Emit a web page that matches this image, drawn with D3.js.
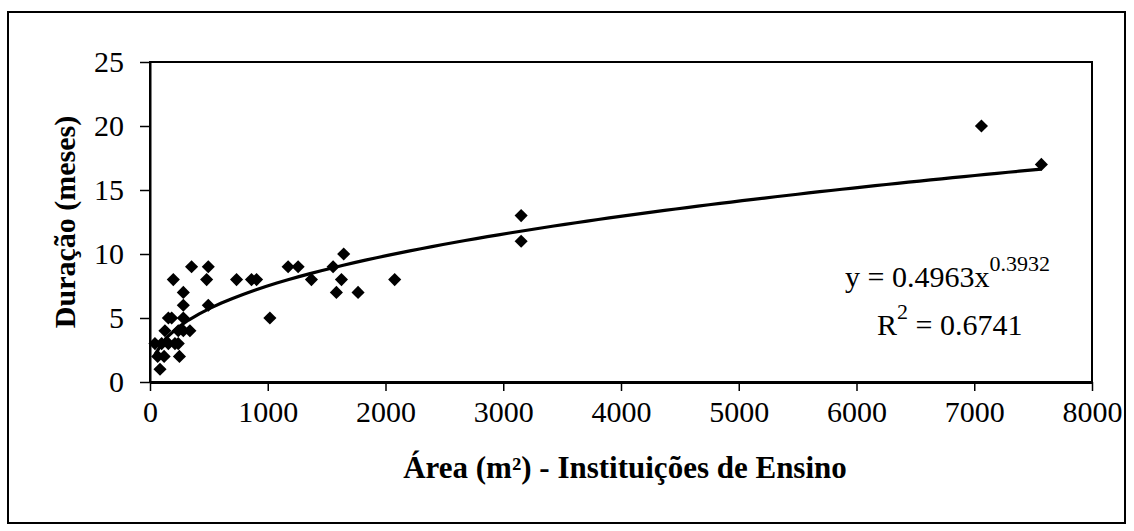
<!DOCTYPE html>
<html>
<head>
<meta charset="utf-8">
<script src="https://cdn.jsdelivr.net/npm/d3@7"></script>
<style>
  html, body { margin: 0; padding: 0; background: #fff; }
  svg { display: block; }
  text { font-family: "Liberation Serif", "Times New Roman", serif; fill: #000; }
</style>
</head>
<body>
<svg id="chart" width="1134" height="531"></svg>
<script>
// Área construída (m²) e duração da obra (meses) – instituições de ensino
const areas = [
  85,
  65, 120, 250,
  42, 99, 156, 212, 240,
  127, 240, 283, 339,
  156, 184, 283, 1018,
  283, 495,
  283, 1583, 1767,
  198, 481, 735, 862, 905, 1371, 1626, 2078,
  353, 495, 1173, 1258, 1555,
  1645,
  3152, 3152,
  7570, 7061
];
const duracoes = [
  1,
  2, 2, 2,
  3, 3, 3, 3, 3,
  4, 4, 4, 4,
  5, 5, 5, 5,
  6, 6,
  7, 7, 7,
  8, 8, 8, 8, 8, 8, 8, 8,
  9, 9, 9, 9, 9,
  10,
  11, 13,
  17, 20
];
// Regressão potência: y = a · x^b
const coefA = 0.4963;
const coefB = 0.3932;
const r2 = 0.6741;

const xTicks = [0, 1000, 2000, 3000, 4000, 5000, 6000, 7000, 8000];
const yTicks = [0, 5, 10, 15, 20, 25];

const xTitle = "Área (m²) - Instituições de Ensino";
const yTitle = "Duração (meses)";

const svg = d3.select("#chart");
const plot = { left: 150, right: 1092, top: 62, bottom: 382 };

const x = d3.scaleLinear().domain([0, 8000]).range([plot.left, plot.right]);
const y = d3.scaleLinear().domain([0, 25]).range([plot.bottom, plot.top]);

// outer frame
svg.append("rect")
  .attr("x", 8).attr("y", 12).attr("width", 1117).attr("height", 511)
  .attr("fill", "none").attr("stroke", "#000").attr("stroke-width", 2);

// plot area frame
svg.append("rect")
  .attr("x", plot.left).attr("y", plot.top)
  .attr("width", plot.right - plot.left).attr("height", plot.bottom - plot.top)
  .attr("fill", "none").attr("stroke", "#000").attr("stroke-width", 2);

// axes
const xAxis = d3.axisBottom(x).tickValues(xTicks).tickFormat(d3.format("d"))
  .tickSize(9).tickSizeOuter(0).tickPadding(10);
const yAxis = d3.axisLeft(y).tickValues(yTicks).tickFormat(d3.format("d"))
  .tickSize(10).tickSizeOuter(0).tickPadding(16);

const gx = svg.append("g").attr("transform", `translate(0,${plot.bottom})`).call(xAxis);
const gy = svg.append("g").attr("transform", `translate(${plot.left},0)`).call(yAxis);

[gx, gy].forEach(g => {
  g.selectAll(".tick line").attr("stroke", "#000").attr("stroke-width", 1.5);
  g.selectAll(".tick text")
    .style("font-family", "'Liberation Serif', 'Times New Roman', serif")
    .style("font-size", "30px").attr("fill", "#000");
});
gx.select(".domain").attr("stroke", "#000").attr("stroke-width", 3);
gy.select(".domain").attr("stroke", "#000").attr("stroke-width", 2);

// trend line (drawn beneath the markers)
const xMin = d3.min(areas), xMax = d3.max(areas);
const curveXs = d3.range(0, 81).map(i => xMin + (xMax - xMin) * i / 80);
const trend = d3.line()
  .x(d => x(d))
  .y(d => y(coefA * Math.pow(d, coefB)));

svg.append("path")
  .datum(curveXs)
  .attr("d", trend)
  .attr("fill", "none")
  .attr("stroke", "#000")
  .attr("stroke-width", 3.2)
  .attr("stroke-linejoin", "round");

// markers
const diamond = d3.symbol().type(d3.symbolSquare).size(86);
svg.append("g").selectAll("path")
  .data(areas.map((a, i) => ({ a, d: duracoes[i] })))
  .join("path")
  .attr("d", diamond)
  .attr("transform", p => `translate(${x(p.a)},${y(p.d)}) rotate(45)`)
  .attr("fill", "#000");

// equation labels
const eq = svg.append("text").attr("x", 845).attr("y", 287).style("font-size", "30px");
eq.append("tspan").text(`y = ${coefA}x`);
eq.append("tspan").attr("dy", -16).style("font-size", "22px").text(String(coefB));

const rt = svg.append("text").attr("x", 877).attr("y", 335).style("font-size", "30px");
rt.append("tspan").text("R");
rt.append("tspan").attr("dy", -16).style("font-size", "22px").text("2");
rt.append("tspan").attr("dy", 16).text(` = ${r2}`);

// axis titles
svg.append("text")
  .attr("x", 625).attr("y", 478)
  .attr("text-anchor", "middle")
  .style("font-size", "31px").style("font-weight", "bold")
  .text(xTitle);

svg.append("text")
  .attr("transform", `translate(75,222) rotate(-90)`)
  .attr("text-anchor", "middle")
  .style("font-size", "30px").style("font-weight", "bold")
  .text(yTitle);
</script>
</body>
</html>
